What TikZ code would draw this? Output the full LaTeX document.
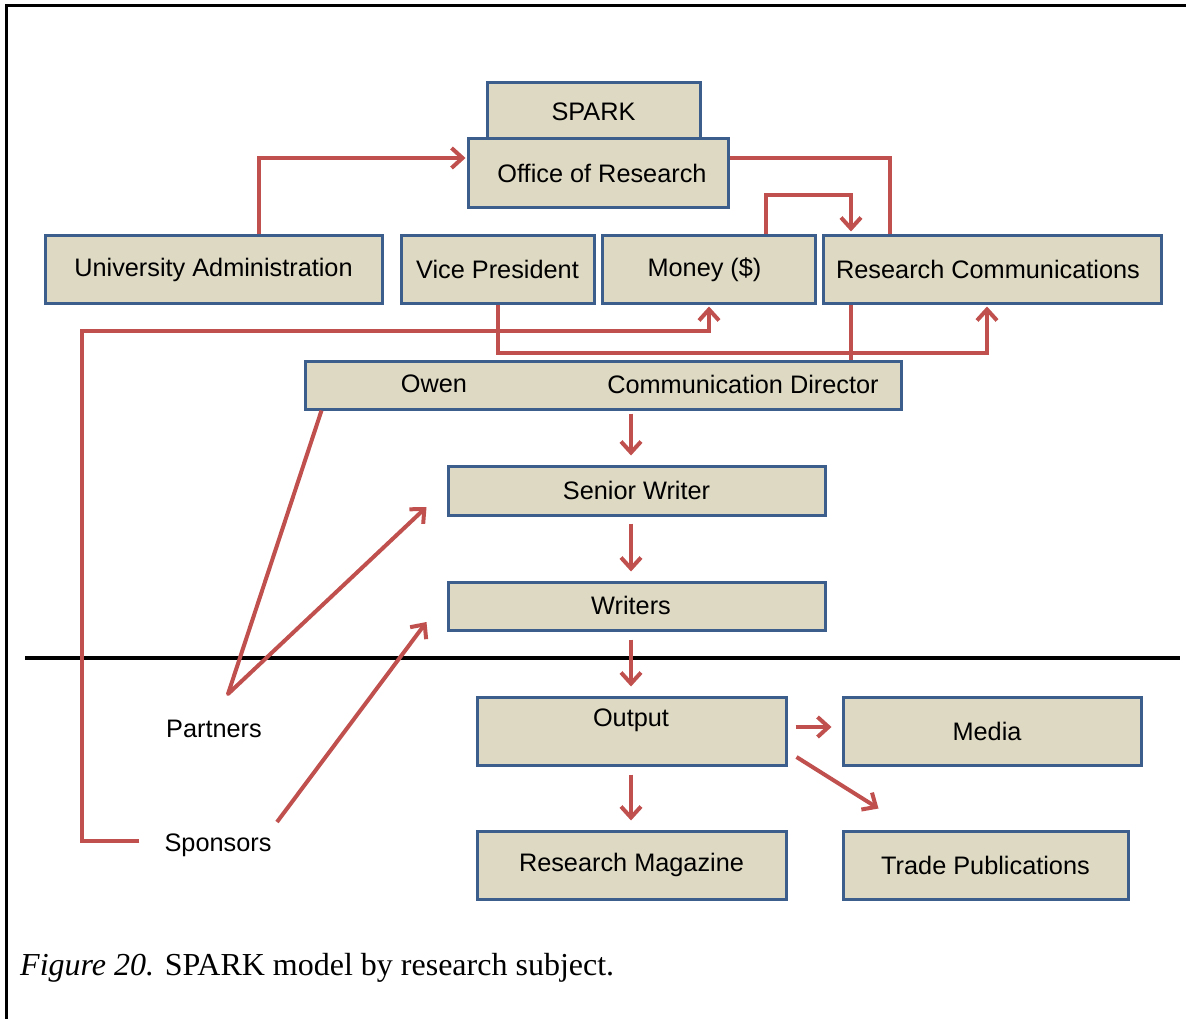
\documentclass[tikz,border=0pt]{standalone}
\usepackage{fontspec}
\setmainfont{Liberation Sans}
\newfontfamily\capfont{Liberation Serif}
\usetikzlibrary{arrows.meta}
\definecolor{boxtan}{HTML}{DDD9C3}
\definecolor{boxblue}{HTML}{3B5E8C}
\definecolor{linkred}{HTML}{C0504D}
\begin{document}
\begin{tikzpicture}[x=1pt,y=-1pt,
  box/.style={draw=boxblue,line width=3pt,fill=boxtan,inner sep=0pt,
    font=\fontsize{25.3}{29}\selectfont},
  lbl/.style={inner sep=0pt,font=\fontsize{25.3}{29}\selectfont},
  link/.style={draw=linkred,line width=4pt},
  arr/.style={link,-{Straight Barb[length=11pt,width=20pt,line join=miter]}},
]
\useasboundingbox (0,0) rectangle (1186,1019);
% page frame
\draw[line width=3pt] (6,1019) -- (6,6) -- (1186,6);

% boxes
\node[box,minimum width=213,minimum height=57] (spark) at (593.5,111.5) {SPARK};
\node[box,minimum width=260,minimum height=69] (off) at (598,173.5) {\kern8pt Office of Research};
\node[box,minimum width=337,minimum height=67] (ua) at (213.5,269.5) {University Administration};
\node[box,minimum width=193,minimum height=67] (vp) at (497.5,269.5) {Vice President};
\node[box,minimum width=213,minimum height=67] (mo) at (708.5,269.5) {Money (\$)\kern8pt};
\node[box,minimum width=338,minimum height=67] (rc) at (992,269.5) {Research Communications\kern8pt};
\node[box,minimum width=596,minimum height=48] (cd) at (603,385) {};
\node[lbl] (owen) at (434,384) {Owen};
\node[lbl] (cdir) at (743,384) {Communication Director};
\node[box,minimum width=377,minimum height=49] (sw) at (636.5,490.5) {Senior Writer};
\node[box,minimum width=377,minimum height=48] (wr) at (636.5,606) {};
\node[lbl] (wrt) at (631,605) {Writers};
\node[box,minimum width=309,minimum height=68] (out) at (631.5,731) {};
\node[lbl] (outt) at (631,720) {Output};
\node[box,minimum width=298,minimum height=68] (me) at (992,731) {Media\kern10pt};
\node[box,minimum width=309,minimum height=68] (rm) at (631.5,865) {Research Magazine};
\node[box,minimum width=285,minimum height=68] (tp) at (985.5,865) {Trade Publications};

% free labels
\node[lbl] (pa) at (214,729) {Partners};
\node[lbl] (sp) at (218,845) {Sponsors};

% dividing rule
\draw[line width=4pt] (25,658) -- (1180,658);

% top links
\draw[arr] ([xshift=45.5pt]ua.north) |- ([yshift=15.5pt,xshift=-1pt]off.west);
\draw[link] ([yshift=15.5pt]off.east) -| ([xshift=-102pt]rc.north);
\draw[arr] ([xshift=57.5pt]mo.north) -- ++(0,-39) -| ([xshift=-141pt,yshift=3pt]rc.north);
\draw[arr] (vp.south) -- ++(0,48) -| ([xshift=-5pt,yshift=-2pt]rc.south);
\draw[link] ([xshift=-141pt]rc.south) -- ([xshift=-141pt]rc.south |- cd.north);
\draw[arr] ([xshift=-25pt,yshift=4pt]sp.west) -- ++(-57,0) -- ++(0,-510) -| ([xshift=0.5pt,yshift=-2pt]mo.south);

% partners and sponsors
\coordinate (pv) at (228,694);
\coordinate (sv) at (277,822);
\draw[arr,line join=round] ([xshift=18pt]cd.south west) -- (pv) -- ([xshift=-20pt,yshift=-16.5pt]sw.west);
\draw[arr] (sv) -- ([xshift=-20pt,yshift=-16pt]wr.west);

% vertical chain
\coordinate (ax) at (631,0);
\draw[arr,shorten <=3pt,shorten >=9pt] (ax |- cd.south) -- (ax |- sw.north);
\draw[arr,shorten <=7pt,shorten >=9pt] (ax |- sw.south) -- (ax |- wr.north);
\draw[arr,shorten <=8pt,shorten >=9pt] (ax |- wr.south) -- (ax |- out.north);
\draw[arr,shorten <=8pt,shorten >=9pt] (ax |- out.south) -- (ax |- rm.north);

% output branches
\draw[arr,shorten <=8pt,shorten >=10pt] ([yshift=4pt]out.east) -- ([yshift=4pt]out.east -| me.west);
\draw[arr] ([xshift=9pt,yshift=-26pt]out.east) -- ([xshift=37pt,yshift=21pt]tp.north west);

% caption
\node[anchor=base west,inner sep=0pt,font=\capfont\fontsize{32}{36}\selectfont] (cap) at (20,975)
  {\textit{Figure 20.} SPARK model by research subject.};
\end{tikzpicture}
\end{document}
